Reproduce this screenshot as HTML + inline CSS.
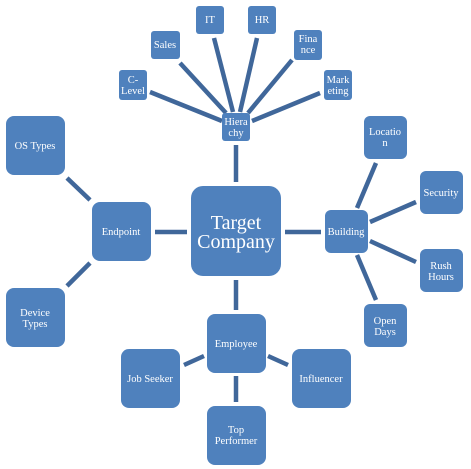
<!DOCTYPE html>
<html><head><meta charset="utf-8"><style>
html,body{margin:0;padding:0;background:#fff;}
svg{display:block;}
text{font-family:"Liberation Serif",serif;fill:#fff;text-anchor:middle;font-size:10.5px;}
</style></head><body>
<svg width="471" height="469" viewBox="0 0 471 469">
<g stroke="#40679a" stroke-width="4.5" fill="none">
<line x1="150" y1="92" x2="222" y2="121"/>
<line x1="180" y1="63" x2="226" y2="113"/>
<line x1="214" y1="38" x2="233" y2="112"/>
<line x1="257" y1="38" x2="240" y2="112"/>
<line x1="292" y1="60" x2="248" y2="113"/>
<line x1="320" y1="93" x2="252" y2="121"/>
<line x1="236" y1="145" x2="236" y2="182"/>
<line x1="155" y1="232" x2="187" y2="232"/>
<line x1="285" y1="232" x2="321" y2="232"/>
<line x1="67" y1="178" x2="90" y2="200"/>
<line x1="67" y1="286" x2="90" y2="263"/>
<line x1="357" y1="208" x2="376" y2="163"/>
<line x1="370" y1="222" x2="416" y2="202"/>
<line x1="370" y1="241" x2="416" y2="262"/>
<line x1="357" y1="255" x2="376" y2="300"/>
<line x1="236" y1="280" x2="236" y2="310"/>
<line x1="184" y1="365" x2="204" y2="356"/>
<line x1="268" y1="356" x2="288" y2="365"/>
<line x1="236" y1="376" x2="236" y2="402"/>
</g>
<g fill="#4f81bd">
<rect x="119" y="70" width="28" height="30" rx="3"/>
<rect x="151" y="31" width="29" height="28" rx="3"/>
<rect x="196" y="6" width="28" height="28" rx="3"/>
<rect x="248" y="6" width="28" height="28" rx="3"/>
<rect x="294" y="30" width="28" height="30" rx="3"/>
<rect x="324" y="70" width="28" height="30" rx="3"/>
<rect x="222" y="113" width="28" height="28" rx="3"/>
<rect x="191" y="186" width="90" height="90" rx="12"/>
<rect x="92" y="202" width="59" height="59" rx="8"/>
<rect x="6" y="116" width="59" height="59" rx="8"/>
<rect x="6" y="288" width="59" height="59" rx="8"/>
<rect x="325" y="210" width="43" height="43" rx="6"/>
<rect x="364" y="116" width="43" height="43" rx="6"/>
<rect x="420" y="171" width="43" height="43" rx="6"/>
<rect x="420" y="249" width="43" height="43" rx="6"/>
<rect x="364" y="304" width="43" height="43" rx="6"/>
<rect x="207" y="314" width="59" height="59" rx="8"/>
<rect x="121" y="349" width="59" height="59" rx="8"/>
<rect x="292" y="349" width="59" height="59" rx="8"/>
<rect x="207" y="406" width="59" height="59" rx="8"/>
</g>
<text x="133" y="83">C-</text><text x="133" y="94">Level</text>
<text x="165" y="48">Sales</text>
<text x="210" y="23">IT</text>
<text x="262" y="23">HR</text>
<text x="308" y="42">Fina</text><text x="308" y="53">nce</text>
<text x="338" y="83">Mark</text><text x="338" y="94">eting</text>
<text x="236" y="125">Hiera</text><text x="236" y="136">chy</text>
<text x="236" y="229" style="font-size:20px">Target</text>
<text x="236" y="248" style="font-size:20px">Company</text>
<text x="121" y="235">Endpoint</text>
<text x="35" y="149">OS Types</text>
<text x="35" y="316">Device</text><text x="35" y="327">Types</text>
<text x="346" y="235">Building</text>
<text x="385" y="135">Locatio</text><text x="385" y="146">n</text>
<text x="441" y="196">Security</text>
<text x="441" y="269">Rush</text><text x="441" y="280">Hours</text>
<text x="385" y="324">Open</text><text x="385" y="335">Days</text>
<text x="236" y="347">Employee</text>
<text x="150" y="382">Job Seeker</text>
<text x="321" y="382">Influencer</text>
<text x="236" y="433">Top</text><text x="236" y="444">Performer</text>
</svg>
</body></html>
